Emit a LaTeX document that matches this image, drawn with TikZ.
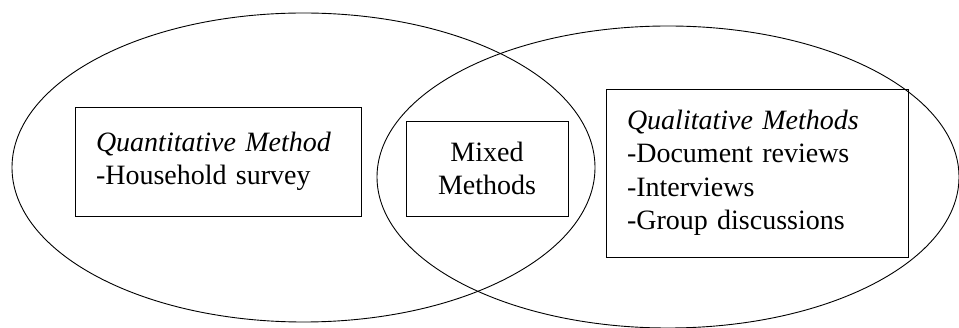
\documentclass[tikz,border=0pt]{standalone}
\usepackage{fontspec}
\setmainfont{Liberation Serif}
\usetikzlibrary{shapes.geometric}
\tikzset{
  setring/.style={ellipse, draw, line width=0.9pt, inner sep=0pt},
  methbox/.style={rectangle, draw, line width=0.9pt, inner sep=0pt, align=left,
    font=\fontsize{28}{33.5}\selectfont},
}
\begin{document}
\begin{tikzpicture}[x=1pt, y=-1pt]
\useasboundingbox (0,0) rectangle (959,328);
\node[setring, minimum width=583pt, minimum height=309pt] (quantset) at (303.5,167.5){};
\node[setring, minimum width=582pt, minimum height=302pt] (qualset) at (668,177){};
\node[methbox, minimum width=286pt, minimum height=109pt, text width=244pt] (quantbox) at (218,161.5){\textit{Quantitative Method}\\-Household survey\vphantom{$\big($}};
\node[methbox, minimum width=162pt, minimum height=95pt, align=center] (mixbox) at (487,168.5){Mixed\\Methods};
\node[methbox, minimum width=302pt, minimum height=168pt, text width=260pt] (qualbox) at (757,173){\textit{Qualitative Methods}\\-Document reviews\\-Interviews\\-Group discussions\vphantom{$\big($}};
\end{tikzpicture}
\end{document}
